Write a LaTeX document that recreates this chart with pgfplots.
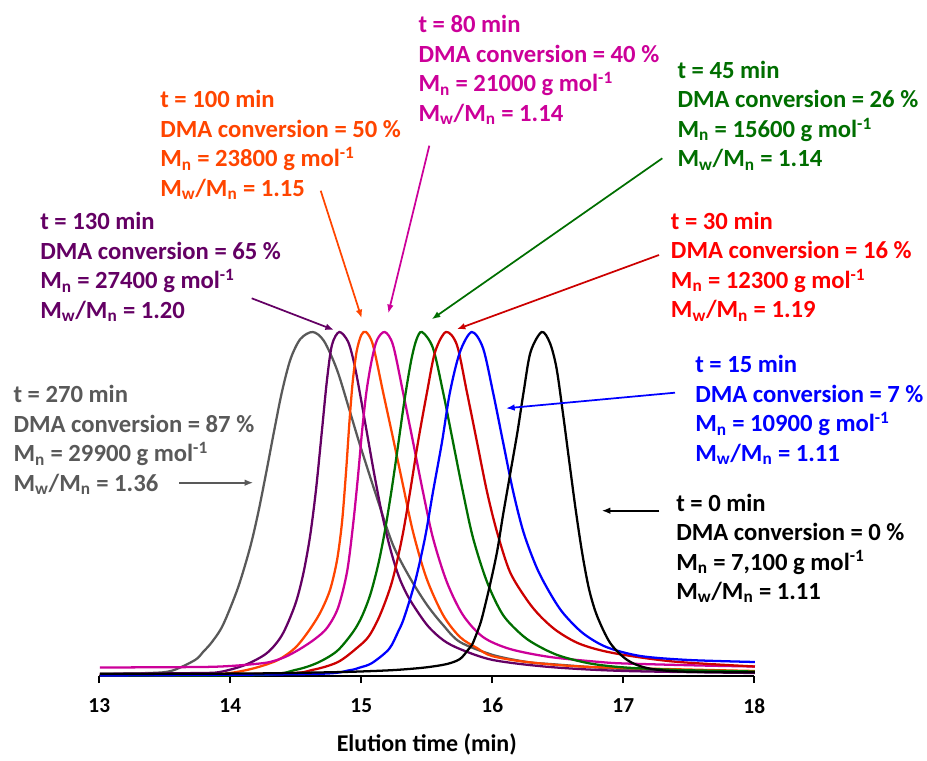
\documentclass[border=0pt]{standalone}
\usepackage{pgfplots}
\pgfplotsset{compat=1.18}
\usepackage{fontspec}
\setmainfont{Carlito}
\usetikzlibrary{arrows.meta}
\definecolor{cgrey}{RGB}{89,89,89}
\definecolor{cpurple}{RGB}{100,0,100}
\definecolor{corange}{RGB}{255,69,0}
\definecolor{cmag}{RGB}{204,0,153}
\definecolor{cgreen}{RGB}{0,110,0}
\definecolor{cred}{RGB}{204,0,0}
\definecolor{credt}{RGB}{255,0,0}
\definecolor{cblue}{RGB}{0,0,255}
\newcommand{\anno}[7]{%
  \node[anchor=base west,inner sep=0pt,text=#1,font=\bfseries\fontsize{18.5}{22}\selectfont] at (#2,#3) {#4};
  \node[anchor=base west,inner sep=0pt,text=#1,font=\bfseries\fontsize{18.5}{22}\selectfont] at (#2,{#3+29.5}) {#5};
  \node[anchor=base west,inner sep=0pt,text=#1,font=\bfseries\fontsize{18.5}{22}\selectfont] at (#2,{#3+59}) {#6};
  \node[anchor=base west,inner sep=0pt,text=#1,font=\bfseries\fontsize{18.5}{22}\selectfont] at (#2,{#3+88.5}) {#7};
}
\begin{document}
\begin{tikzpicture}
\begin{axis}[
  x=98.25pt, y=0.75pt,
  xmin=13, xmax=18, ymin=0, ymax=350,
  axis x line=bottom, axis y line=none,
  axis line style={line width=1.3pt,-},
  xtick={13,14,15,16,17,18},
  tick align=outside,
  major tick length=5.25pt,
  xtick style={line width=1.3pt,black},
  /pgf/number format/assume math mode=true,
  xticklabel style={font=\bfseries\fontsize{16}{18}\selectfont, yshift=-8pt},
  xlabel={Elution time (min)},
  xlabel style={font=\bfseries\fontsize{18}{20}\selectfont, at={(axis description cs:0.5,0)}, anchor=center, yshift=-51pt},
  clip=false,
  every axis plot/.append style={line width=1.7pt, smooth, tension=0.5, no markers},
]
% t = 270 min (grey)
\addplot[cgrey] coordinates {
(13.005,2.5)(13.387,3)(13.555,5.3)(13.731,16)(13.792,24)(13.860,34)(13.944,51)(14.058,88)(14.150,128)(14.211,162)(14.272,202)(14.333,244)(14.394,284)(14.460,317)(14.535,337)(14.629,344)(14.715,335)(14.815,306)(14.914,264)(14.990,231)(15.120,178)(15.242,131)(15.372,98)(15.502,71)(15.624,51)(15.753,34)(16.005,21)(16.265,14)(16.440,12)(17.013,7)(18.005,4.3)};
% t = 130 min (purple)
\addplot[cpurple] coordinates {
(13.005,2)(13.769,3)(13.921,4)(14.112,11)(14.280,23)(14.395,41)(14.494,71)(14.555,101)(14.608,139)(14.654,186)(14.700,246)(14.738,296)(14.776,331)(14.832,344)(14.900,334)(14.950,310)(15.000,275)(15.050,238)(15.100,201)(15.150,167)(15.200,138)(15.250,114)(15.300,95)(15.372,76)(15.502,51)(15.624,36)(15.753,27)(16.005,16)(16.440,9)(17.013,5)(18.005,3)};
% t = 100 min (orange)
\addplot[corange] coordinates {
(13.005,1)(13.769,1)(13.998,3)(14.188,8)(14.364,16)(14.494,28)(14.593,44)(14.685,63)(14.761,86)(14.815,116)(14.853,154)(14.884,205)(14.910,255)(14.935,295)(14.965,325)(15.000,341)(15.036,344)(15.089,331)(15.166,284)(15.242,238)(15.318,191)(15.395,144)(15.497,98)(15.624,61)(15.753,39)(15.883,28)(15.997,20)(16.265,14)(16.760,9)(18.005,5)};
% t = 80 min (magenta)
\addplot[cmag] coordinates {
(13.005,8.5)(13.769,9)(13.998,10)(14.188,12)(14.303,14)(14.418,19)(14.532,27)(14.646,37)(14.738,48)(14.822,68)(14.891,104)(14.937,151)(14.975,200)(15.006,245)(15.040,285)(15.080,316)(15.120,336)(15.179,344)(15.242,331)(15.318,284)(15.395,234)(15.471,184)(15.547,138)(15.653,94)(15.776,61)(15.929,39)(16.135,27)(16.440,19)(16.822,14)(17.013,12.5)(17.585,10.5)(18.005,9.5)};
% t = 45 min (green)
\addplot[cgreen] coordinates {
(13.005,0.5)(14.226,1)(14.494,6)(14.662,13)(14.815,25)(14.937,44)(15.006,60)(15.070,82)(15.130,112)(15.180,145)(15.230,185)(15.280,230)(15.330,276)(15.380,315)(15.420,336)(15.463,344)(15.547,328)(15.624,284)(15.700,234)(15.776,184)(15.853,138)(15.960,94)(16.082,61)(16.235,40)(16.365,29)(16.518,20)(16.747,12.5)(17.013,8.5)(17.433,6)(18.005,4.5)};
% t = 30 min (red)
\addplot[cred] coordinates {
(13.005,1)(14.379,2.5)(14.624,6)(14.822,14)(14.975,29)(15.059,40)(15.143,61)(15.234,94)(15.311,138)(15.372,184)(15.433,234)(15.502,284)(15.563,324)(15.646,344)(15.730,331)(15.806,284)(15.883,234)(15.960,184)(16.036,144)(16.135,104)(16.265,76)(16.365,60)(16.494,45)(16.670,32)(16.922,23)(17.380,14.5)(18.005,9.5)};
% t = 15 min (blue)
\addplot[cblue] coordinates {
(13.005,0.5)(14.624,2)(14.899,5.5)(14.990,8.5)(15.082,13)(15.212,27)(15.280,44)(15.326,58)(15.410,94)(15.486,138)(15.547,184)(15.616,234)(15.677,284)(15.753,324)(15.843,344)(15.929,328)(16.005,284)(16.082,234)(16.160,184)(16.240,143)(16.340,108)(16.440,83)(16.540,63)(16.690,43)(16.870,29)(17.130,20)(17.500,16)(18.005,14)};
% t = 0 min (black)
\addplot[black] coordinates {
(13.005,2)(14.150,2.5)(14.746,3.7)(14.990,4.5)(15.257,6)(15.486,8.5)(15.654,12)(15.753,17)(15.814,26)(15.845,31)(15.891,46)(15.921,58)(15.982,91)(16.036,124)(16.082,161)(16.135,201)(16.192,244)(16.239,284)(16.292,324)(16.377,344)(16.440,333)(16.490,308)(16.540,262)(16.590,212)(16.640,163)(16.690,120)(16.740,86)(16.800,60)(16.900,33)(17.030,16)(17.180,8)(17.433,4.5)(18.005,3.7)};
\coordinate (P0) at (axis cs:13,676);
\end{axis}
\begin{scope}[shift={(P0)}, xshift=-74.475pt, x=0.75pt, y=-0.75pt]
  \anno{cmag}{418.3}{32.7}{t = 80 min}{DMA conversion = 40 \%}{M\textsubscript{n} = 21000 g mol\textsuperscript{-1}}{M\textsubscript{w}/M\textsubscript{n} = 1.14}
  \anno{corange}{160}{107.7}{t = 100 min}{DMA conversion = 50 \%}{M\textsubscript{n} = 23800 g mol\textsuperscript{-1}}{M\textsubscript{w}/M\textsubscript{n} = 1.15}
  \anno{cpurple}{40}{229.7}{t = 130 min}{DMA conversion = 65 \%}{M\textsubscript{n} = 27400 g mol\textsuperscript{-1}}{M\textsubscript{w}/M\textsubscript{n} = 1.20}
  \anno{cgreen}{677.3}{78.4}{t = 45 min}{DMA conversion = 26 \%}{M\textsubscript{n} = 15600 g mol\textsuperscript{-1}}{M\textsubscript{w}/M\textsubscript{n} = 1.14}
  \anno{credt}{670.7}{229.4}{t = 30 min}{DMA conversion = 16 \%}{M\textsubscript{n} = 12300 g mol\textsuperscript{-1}}{M\textsubscript{w}/M\textsubscript{n} = 1.19}
  \anno{cblue}{695}{372.7}{t = 15 min}{DMA conversion = 7 \%}{M\textsubscript{n} = 10900 g mol\textsuperscript{-1}}{M\textsubscript{w}/M\textsubscript{n} = 1.11}
  \anno{black}{676}{511}{t = 0 min}{DMA conversion = 0 \%}{M\textsubscript{n} = 7,100 g mol\textsuperscript{-1}}{M\textsubscript{w}/M\textsubscript{n} = 1.11}
  \anno{cgrey}{13.3}{402.7}{t = 270 min}{DMA conversion = 87 \%}{M\textsubscript{n} = 29900 g mol\textsuperscript{-1}}{M\textsubscript{w}/M\textsubscript{n} = 1.36}
  \begin{scope}[line width=1.3pt, -{Latex[length=6.5pt,width=5pt]}]
    \draw[corange] (320.7,190.7) -- (361.7,318.3);
    \draw[cmag] (429.3,145.7) -- (388.3,313.3);
    \draw[cpurple] (251.7,298.3) -- (334,330);
    \draw[cgreen] (662.3,158.3) -- (431.7,319.3);
    \draw[cred] (659,255) -- (456.7,329.3);
    \draw[cblue] (675,392.7) -- (506,408.3);
    \draw[black] (659.3,510.7) -- (601.7,510.7);
    \draw[cgrey] (179.3,482.7) -- (253.3,482.7);
  \end{scope}
  \pgfresetboundingbox
  \path[use as bounding box] (0,0) rectangle (927,760);
\end{scope}
\end{tikzpicture}
\end{document}
